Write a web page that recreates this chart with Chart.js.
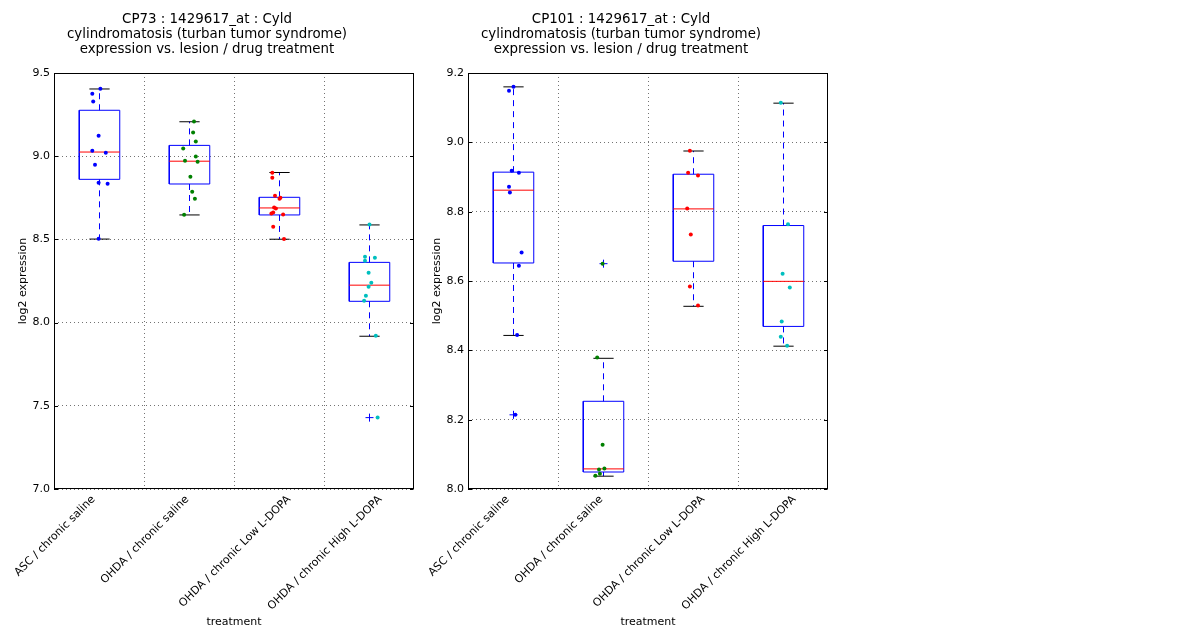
<!DOCTYPE html>
<html>
<head>
<meta charset="utf-8">
<script src="https://cdn.jsdelivr.net/npm/chart.js@4.4.1/dist/chart.umd.min.js"></script>
<style>
  html, body { margin: 0; padding: 0; background: #fff; }
  body { width: 1200px; height: 640px; position: relative; overflow: hidden; }
  .panel { position: absolute; top: 0; width: 468px; height: 640px; }
</style>
</head>
<body>
<div class="panel" style="left:0"><canvas id="cp73"></canvas></div>
<div class="panel" style="left:414px"><canvas id="cp101"></canvas></div>
<script>
const categories = ['ASC / chronic saline', 'OHDA / chronic saline', 'OHDA / chronic Low L-DOPA', 'OHDA / chronic High L-DOPA']

// CP73 panel
const cp73Values = [
  [9.406, 9.376, 9.328, 9.123, 9.033, 9.021, 8.949, 8.841, 8.835, 8.504],
  [9.208, 9.142, 9.088, 9.046, 8.998, 8.973, 8.967, 8.877, 8.787, 8.745, 8.648],
  [8.901, 8.871, 8.763, 8.751, 8.745, 8.691, 8.685, 8.661, 8.655, 8.649, 8.576, 8.502],
  [8.589, 8.396, 8.390, 8.372, 8.300, 8.240, 8.216, 8.162, 8.132, 7.921, 7.429]
]
const cp73Jitter = [
  [0.01, -0.08, -0.07, -0.01, -0.08, 0.07, -0.05, -0.01, 0.09, -0.01],
  [0.05, 0.04, 0.07, -0.07, 0.07, -0.05, 0.09, 0.01, 0.03, 0.06, -0.06],
  [-0.08, -0.08, -0.05, 0.01, 0.00, -0.06, -0.04, -0.07, -0.09, 0.04, -0.07, 0.05],
  [0.00, -0.05, 0.06, -0.05, -0.01, 0.02, -0.01, -0.04, -0.06, 0.07, 0.09]
]
const cp73Q1 = [8.861, 8.833, 8.647, 8.128]
const cp73Median = [9.025, 8.970, 8.689, 8.225]
const cp73Q3 = [9.276, 9.065, 8.753, 8.362]
const cp73WhiskerLow = [8.502, 8.647, 8.501, 7.918]
const cp73WhiskerHigh = [9.404, 9.207, 8.902, 8.587]
const cp73Outliers = [[], [], [], [7.429]]

// CP101 panel
const cp101Values = [
  [9.160, 9.149, 8.918, 8.912, 8.872, 8.855, 8.682, 8.644, 8.444, 8.214],
  [8.650, 8.379, 8.128, 8.059, 8.056, 8.044, 8.038],
  [8.976, 8.912, 8.904, 8.809, 8.734, 8.584, 8.529],
  [9.114, 8.764, 8.621, 8.581, 8.483, 8.439, 8.413]
]
const cp101Jitter = [
  [0.00, -0.05, -0.02, 0.06, -0.05, -0.04, 0.09, 0.06, 0.04, 0.02],
  [-0.01, -0.07, -0.01, 0.01, -0.05, -0.04, -0.09],
  [-0.04, -0.06, 0.05, -0.07, -0.03, -0.04, 0.05],
  [-0.03, 0.05, -0.01, 0.07, -0.02, -0.03, 0.04]
]
const cp101Q1 = [8.652, 8.049, 8.657, 8.469]
const cp101Median = [8.862, 8.058, 8.808, 8.599]
const cp101Q3 = [8.914, 8.253, 8.908, 8.760]
const cp101WhiskerLow = [8.443, 8.037, 8.527, 8.412]
const cp101WhiskerHigh = [9.160, 8.377, 8.975, 9.113]
const cp101Outliers = [[8.214], [8.650], [], []]

const pointColors = ['#0000ff', '#008000', '#ff0000', '#00bfbf']
const boxWidth = 0.45
// nudge the x range by half a pixel so the 1px whiskers land on whole pixels
const halfPixel = 0.5 / 90

Chart.defaults.font.family = 'DejaVu Sans'
Chart.defaults.font.size = 11
Chart.defaults.color = '#000'

const GAP = {x: null, y: null}

function buildDatasets(values, jitter, q1, median, q3, wLow, wHigh, outliers) {
  const half = boxWidth / 2
  const cap = boxWidth / 4
  const boxes = [], medians = [], whiskers = [], caps = [], fliers = []
  const sets = []

  categories.forEach((cat, i) => {
    const x = i + 1
    boxes.push({x: x - half, y: q1[i]}, {x: x + half, y: q1[i]}, {x: x + half, y: q3[i]},
               {x: x - half, y: q3[i]}, {x: x - half, y: q1[i]}, GAP)
    medians.push({x: x - half, y: median[i]}, {x: x + half, y: median[i]}, GAP)
    whiskers.push({x: x, y: q3[i]}, {x: x, y: wHigh[i]}, GAP, {x: x, y: q1[i]}, {x: x, y: wLow[i]}, GAP)
    caps.push({x: x - cap, y: wHigh[i]}, {x: x + cap, y: wHigh[i]}, GAP,
              {x: x - cap, y: wLow[i]}, {x: x + cap, y: wLow[i]}, GAP)
    outliers[i].forEach(v => fliers.push({x: x, y: v}))

    sets.push({
      data: values[i].map((v, k) => ({x: x + jitter[i][k], y: v})),
      backgroundColor: pointColors[i],
      borderColor: pointColors[i],
      pointRadius: 2,
      pointBorderWidth: 0,
      order: 0
    })
  })

  const line = (data, color, dash, order) => ({
    data, showLine: true, borderColor: color, borderWidth: 1, borderDash: dash,
    pointRadius: 0, pointHoverRadius: 0, fill: false, tension: 0, spanGaps: false, order
  })

  sets.push(line(boxes, '#0000ff', [], 3))
  sets.push(line(whiskers, '#0000ff', [6, 5], 4))
  sets.push(line(caps, '#000000', [], 3))
  sets.push(line(medians, '#ff0000', [], 2))
  sets.push({
    data: fliers, pointStyle: 'cross', pointRadius: 4, borderColor: '#0000ff',
    borderWidth: 1, backgroundColor: '#0000ff', order: 1
  })
  return sets
}

// frame round the plot, inward y ticks, and the tilted category labels
// (centred on the ticks at 0.5, 1.5, ... like the original figure)
const framePlugin = {
  id: 'frame',
  afterDraw(chart) {
    const {ctx, chartArea: a} = chart
    const ys = chart.scales.y
    const xs = chart.scales.x
    ctx.save()
    ctx.strokeStyle = '#000'
    ctx.lineWidth = 1
    ctx.strokeRect(Math.round(a.left) + 0.5, Math.round(a.top) + 0.5,
                   Math.round(a.width) - 1, Math.round(a.height) - 1)
    ctx.beginPath()
    for (const t of ys.ticks) {
      const y = Math.round(ys.getPixelForValue(t.value)) + 0.5
      ctx.moveTo(a.left, y); ctx.lineTo(a.left + 4, y)
      ctx.moveTo(a.right - 4, y); ctx.lineTo(a.right - 0.5, y)
    }
    ctx.stroke()

    ctx.font = '11px "DejaVu Sans"'
    ctx.fillStyle = '#000'
    ctx.textAlign = 'center'
    ctx.textBaseline = 'middle'
    const s = Math.SQRT1_2
    categories.forEach((label, i) => {
      const w = ctx.measureText(label).width
      const bboxH = (w + 13) * s
      const cx = Math.round(xs.getPixelForValue(i + 0.5))
      const cy = a.bottom + 4 + bboxH / 2
      ctx.save()
      ctx.translate(cx, cy)
      ctx.rotate(-Math.PI / 4)
      ctx.fillText(label, 0, 0)
      ctx.restore()
    })
    ctx.restore()
  }
}

function createBoxChart(id, titleLines, yMin, yMax, yStep, datasets) {
  const context = document.getElementById(id).getContext('2d')

  new Chart(context, {
    type: 'scatter',
    data: { datasets },
    plugins: [framePlugin],
    options: {
      responsive: true,
      maintainAspectRatio: false,
      animation: false,
      events: [],
      layout: { padding: { left: 0, right: 54, top: 0, bottom: 0 } },
      plugins: {
        legend: { display: false },
        tooltip: { enabled: false },
        title: {
          display: true,
          text: titleLines,
          color: '#000',
          font: { size: 13.4, weight: 'normal', lineHeight: 15 / 13.4 },
          padding: { top: 12.5, bottom: 15.5 }
        }
      },
      scales: {
        x: {
          type: 'linear',
          min: 0.5 - halfPixel,
          max: 4.5 - halfPixel,
          afterBuildTicks: (s) => {
            s.ticks = [1.5, 2.5, 3.5].map(v => ({value: v}))
          },
          afterFit: (s) => {
            s.height = 151
            s.paddingLeft = 0
            s.paddingRight = 0
          },
          ticks: { display: false },
          grid: {
            drawTicks: false,
            color: 'rgba(0,0,0,0.55)',
            lineWidth: 1
          },
          border: { display: false, dash: [1, 3] },
          title: { display: true, text: 'treatment', font: { size: 11 }, padding: { top: 4, bottom: 11 } }
        },
        y: {
          min: yMin,
          max: yMax,
          afterFit: (s) => { s.width = 54 },
          ticks: {
            stepSize: yStep,
            padding: 4,
            callback: (v) => v.toFixed(1)
          },
          grid: {
            drawTicks: false,
            color: 'rgba(0,0,0,0.55)',
            lineWidth: 1
          },
          border: { display: false, dash: [1, 3] },
          title: { display: true, text: 'log2 expression', font: { size: 11 }, padding: { top: 17, bottom: 0 } }
        }
      }
    }
  })
}

createBoxChart('cp73',
  ['CP73 : 1429617_at : Cyld', 'cylindromatosis (turban tumor syndrome)', 'expression vs. lesion / drug treatment'],
  7.0, 9.5, 0.5,
  buildDatasets(cp73Values, cp73Jitter, cp73Q1, cp73Median, cp73Q3, cp73WhiskerLow, cp73WhiskerHigh, cp73Outliers))

createBoxChart('cp101',
  ['CP101 : 1429617_at : Cyld', 'cylindromatosis (turban tumor syndrome)', 'expression vs. lesion / drug treatment'],
  8.0, 9.2, 0.2,
  buildDatasets(cp101Values, cp101Jitter, cp101Q1, cp101Median, cp101Q3, cp101WhiskerLow, cp101WhiskerHigh, cp101Outliers))
</script>
</body>
</html>
